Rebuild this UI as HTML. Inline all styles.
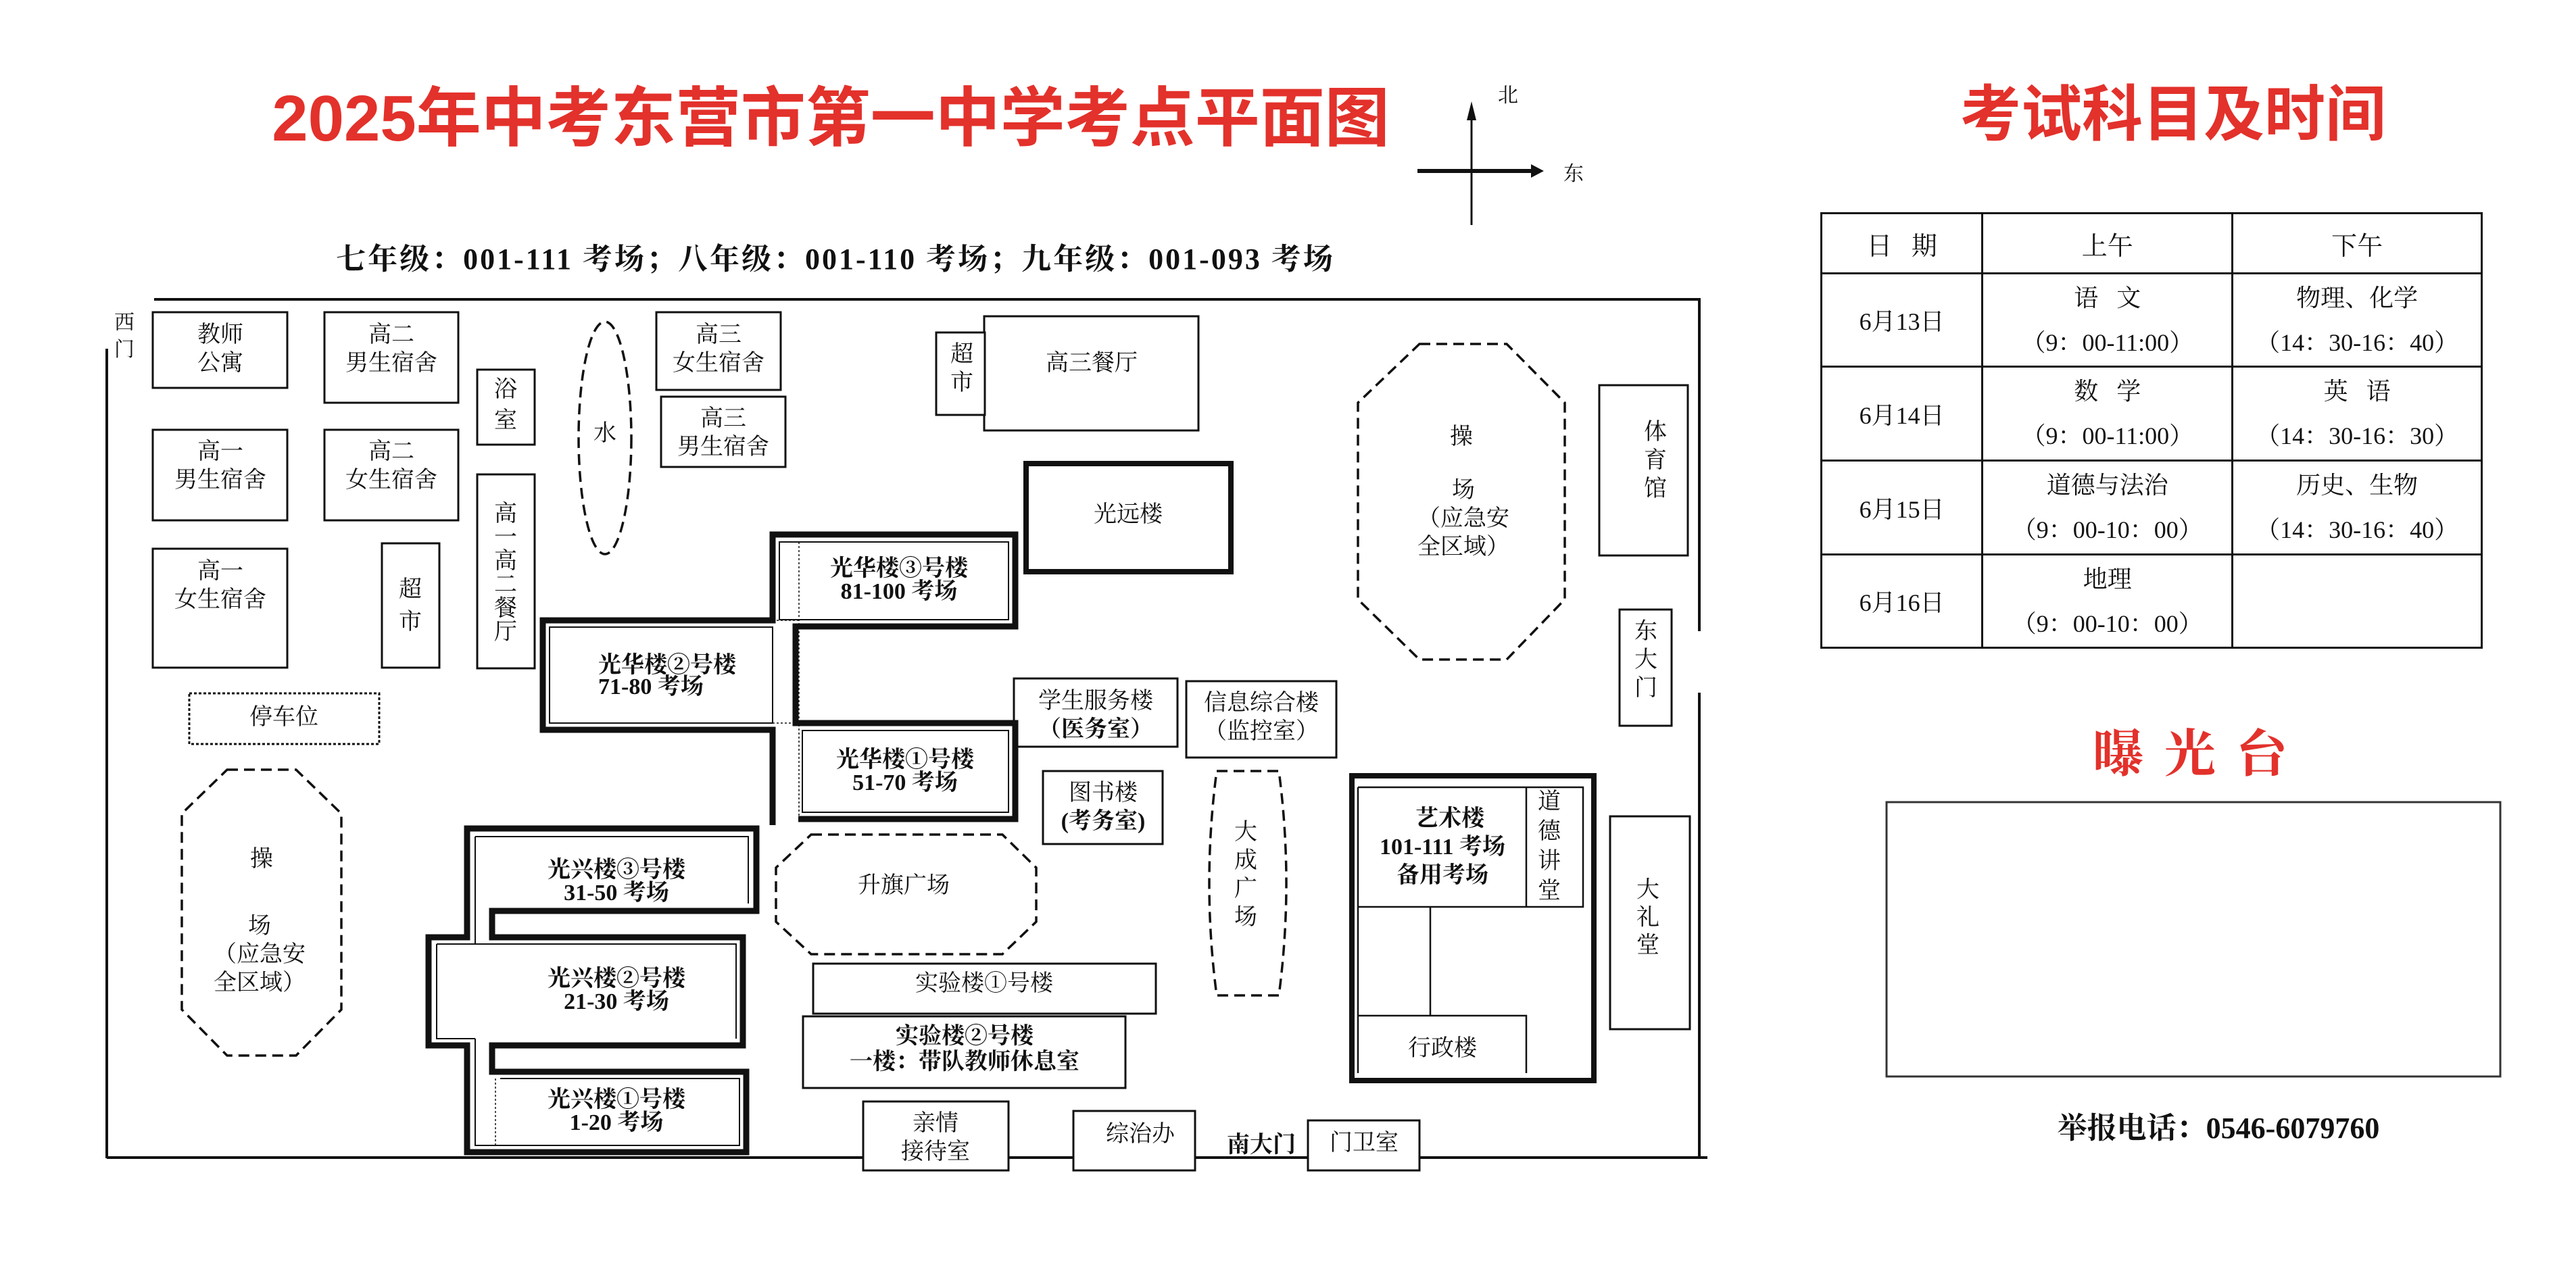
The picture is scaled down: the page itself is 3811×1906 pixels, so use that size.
<!DOCTYPE html>
<html><head><meta charset="utf-8">
<style>
html,body{margin:0;padding:0;background:#fff;}
#w{position:relative;width:3811px;height:1906px;overflow:hidden;background:#fff;}
svg{position:absolute;left:0;top:0;}
.t{position:absolute;transform:translate(-50%,-50%);white-space:nowrap;text-align:center;font-family:"Liberation Serif","Noto Serif CJK SC",serif;font-size:34px;line-height:42px;color:#111;}
.b{font-weight:bold;}
.v{line-height:46px;}
.tb{position:absolute;left:2693px;top:314px;border-collapse:collapse;font-family:"Liberation Serif","Noto Serif CJK SC",serif;color:#111;}
</style></head><body><div id="w">
<svg width="3811" height="1906" viewBox="0 0 3811 1906">
<g fill="none" stroke="#111">
<path d="M228 443 L2514 443 L2514 934 M2514 1025 L2514 1712 M158 1713 L2526 1713 M158 516 L158 1714" stroke-width="4"/>
<path d="M2177 170 L2177 333" stroke-width="3"/>
<path d="M2097 253 L2270 253" stroke-width="6"/>
</g>
<polygon points="2177,150 2170,178 2184,178" fill="#111"/>
<polygon points="2284,253 2265,243 2265,263" fill="#111"/>
<g fill="#fff" stroke="#111" stroke-width="3">
<rect x="226" y="462" width="199" height="112"/>
<rect x="480" y="462" width="198" height="134"/>
<rect x="706" y="547" width="85" height="111"/>
<rect x="971" y="462" width="184" height="115"/>
<rect x="978" y="587" width="184" height="104"/>
<rect x="226" y="636" width="199" height="134"/>
<rect x="480" y="636" width="198" height="134"/>
<rect x="706" y="702" width="85" height="287"/>
<rect x="226" y="812" width="199" height="176"/>
<rect x="565" y="804" width="85" height="184"/>
<rect x="1456" y="468" width="317" height="169"/>
<rect x="1385" y="492" width="72" height="122"/>
<rect x="2366" y="570" width="131" height="252"/>
<rect x="2396" y="902" width="77" height="172"/>
<rect x="1500" y="1004" width="242" height="101"/>
<rect x="1755" y="1008" width="222" height="113"/>
<rect x="1543" y="1141" width="177" height="108"/>
<rect x="1203" y="1426" width="507" height="74"/>
<rect x="1188" y="1504" width="477" height="106"/>
<rect x="1277" y="1630" width="215" height="102"/>
<rect x="1588" y="1644" width="180" height="88"/>
<rect x="1935" y="1658" width="165" height="74"/>
<rect x="2382" y="1208" width="118" height="315"/>
</g>
<rect x="280" y="1026" width="281" height="75" fill="none" stroke="#111" stroke-width="3" stroke-dasharray="4 3"/>
<g fill="none" stroke="#111" stroke-width="3.5" stroke-dasharray="16 9">
<ellipse cx="895" cy="648" rx="39" ry="172"/>
<polygon points="336,1139 438,1139 505,1204 505,1494 438,1562 336,1562 269,1494 269,1204"/>
<polygon points="2100,509 2229,509 2315,596 2315,887 2229,976 2100,976 2009,887 2009,596"/>
<polygon points="1200,1235 1483,1235 1533,1284 1533,1364 1483,1412 1200,1412 1148,1364 1148,1284"/>
<path d="M1800 1141 L1892 1141 Q1914 1307 1892 1473 L1800 1473 Q1778 1307 1800 1141 Z"/>
</g>
<g fill="none" stroke="#111">
<rect x="1518" y="686" width="303" height="160" stroke-width="8"/>
<path d="M1143 1221 L1143 1080 L803 1080 L803 918 L1143 918 L1143 791 L1502 791 L1502 927 L1177 927 L1177 1070 L1502 1070 L1502 1212 L1181 1212" stroke-width="9"/>
<rect x="813" y="928" width="330" height="142" stroke-width="2"/>
<rect x="1153" y="802" width="339" height="115" stroke-width="2"/>
<rect x="1187" y="1081" width="305" height="121" stroke-width="2"/>
<path d="M1182 802 L1182 1212 M1143 918 L1182 918 M1143 1070 L1182 1070" stroke-width="1.5" stroke-dasharray="3 3"/>
<polygon points="691,1226 1119,1226 1119,1348 728,1348 728,1387 1099,1387 1099,1547 728,1547 728,1586 1104,1586 1104,1705 691,1705 691,1547 634,1547 634,1387 691,1387" stroke-width="9"/>
<path d="M703 1238 L1107 1238 L1107 1337 M646 1397 L1089 1397 L1089 1537 M646 1397 L646 1537 L703 1537 M703 1238 L703 1397 M740 1596 L1094 1596 L1094 1695 L703 1695 L703 1537" stroke-width="2"/>
<path d="M733 1596 L733 1695" stroke-width="1.5" stroke-dasharray="3 3"/>
<rect x="2000" y="1148" width="358" height="451" stroke-width="8"/>
<path d="M2009 1165 L2342 1165 L2342 1342 L2009 1342 M2258 1165 L2258 1342 M2009 1165 L2009 1588 M2116 1342 L2116 1503 M2009 1503 L2258 1503 L2258 1588" stroke-width="2.5"/>
</g>
<rect x="2791" y="1187" width="908" height="406" fill="none" stroke="#333" stroke-width="3"/>
</svg>

<div class="t b" style="left:1229px;top:176px;font-family:'Liberation Sans','Noto Sans CJK SC',sans-serif;font-size:96px;line-height:110px;color:#e3312b;">2025年中考东营市第一中学考点平面图</div>
<div class="t" style="left:2231px;top:142px;font-size:30px;">北</div>
<div class="t" style="left:2328px;top:258px;font-size:30px;">东</div>
<div class="t b" style="left:1236px;top:384px;font-size:44px;letter-spacing:3px;">七年级：001-111 考场；八年级：001-110 考场；九年级：001-093 考场</div>
<div class="t" style="left:184px;top:498px;font-size:30px;line-height:40px;">西<br>门</div>

<div class="t" style="left:326px;top:517px;">教师<br>公寓</div>
<div class="t" style="left:579px;top:517px;">高二<br>男生宿舍</div>
<div class="t v" style="left:748px;top:600px;">浴<br>室</div>
<div class="t" style="left:895px;top:642px;">水</div>
<div class="t" style="left:1063px;top:517px;">高三<br>女生宿舍</div>
<div class="t" style="left:1070px;top:641px;">高三<br>男生宿舍</div>
<div class="t" style="left:326px;top:690px;">高一<br>男生宿舍</div>
<div class="t" style="left:579px;top:690px;">高二<br>女生宿舍</div>
<div class="t" style="left:326px;top:867px;">高一<br>女生宿舍</div>
<div class="t" style="left:607px;top:897px;line-height:48px;">超<br>市</div>
<div class="t" style="left:748px;top:848px;line-height:35px;">高<br>一<br>高<br>二<br>餐<br>厅</div>
<div class="t" style="left:420px;top:1062px;">停车位</div>
<div class="t" style="left:387px;top:1272px;">操</div>
<div class="t" style="left:384px;top:1413px;">场<br>（应急安<br>全区域）</div>
<div class="t b" style="left:987px;top:1001px;line-height:32px;text-align:left;">光华楼②号楼<br>71-80 考场</div>
<div class="t b" style="left:1330px;top:859px;line-height:34px;">光华楼③号楼<br>81-100 考场</div>
<div class="t b" style="left:1339px;top:1142px;line-height:34px;">光华楼①号楼<br>51-70 考场</div>
<div class="t b" style="left:912px;top:1305px;line-height:34px;">光兴楼③号楼<br>31-50 考场</div>
<div class="t b" style="left:912px;top:1466px;line-height:34px;">光兴楼②号楼<br>21-30 考场</div>
<div class="t b" style="left:912px;top:1645px;line-height:34px;">光兴楼①号楼<br>1-20 考场</div>
<div class="t" style="left:1615px;top:538px;">高三餐厅</div>
<div class="t" style="left:1423px;top:546px;">超<br>市</div>
<div class="t" style="left:1669px;top:762px;">光远楼</div>
<div class="t" style="left:2162px;top:647px;">操</div>
<div class="t" style="left:2165px;top:768px;">场<br>（应急安<br>全区域）</div>
<div class="t" style="left:2449px;top:682px;">体<br>育<br>馆</div>
<div class="t" style="left:2435px;top:977px;">东<br>大<br>门</div>
<div class="t" style="left:1621px;top:1059px;">学生服务楼<br><b>（医务室）</b></div>
<div class="t" style="left:1866px;top:1062px;">信息综合楼<br>（监控室）</div>
<div class="t" style="left:1632px;top:1195px;">图书楼<br><b>(考务室)</b></div>
<div class="t" style="left:1843px;top:1295px;">大<br>成<br>广<br>场</div>
<div class="t" style="left:1337px;top:1311px;">升旗广场</div>
<div class="t" style="left:1456px;top:1456px;">实验楼①号楼</div>
<div class="t b" style="left:1427px;top:1553px;line-height:38px;">实验楼②号楼<br>一楼：带队教师休息室</div>
<div class="t" style="left:1384px;top:1684px;">亲情<br>接待室</div>
<div class="t" style="left:1687px;top:1679px;">综治办</div>
<div class="t b" style="left:1866px;top:1695px;">南大门</div>
<div class="t" style="left:2018px;top:1692px;">门卫室</div>
<div class="t b" style="left:2145px;top:1212px;">艺术楼</div>
<div class="t b" style="left:2134px;top:1275px;">101-111 考场<br>备用考场</div>
<div class="t" style="left:2292px;top:1253px;line-height:44px;">道<br>德<br>讲<br>堂</div>
<div class="t" style="left:2134px;top:1552px;">行政楼</div>
<div class="t" style="left:2438px;top:1358px;line-height:41px;">大<br>礼<br>堂</div>

<div class="t b" style="left:3215px;top:170px;font-family:'Liberation Sans','Noto Sans CJK SC',sans-serif;font-size:90px;line-height:100px;color:#e3312b;">考试科目及时间</div>
<table class="tb" style="width:980px;">
<colgroup><col style="width:239px"><col style="width:371px"><col style="width:370px"></colgroup>
<tr style="height:89px;"><td style="border:3px solid #111;text-align:center;font-size:38px;">日&nbsp;&nbsp;&nbsp;期</td><td style="border:3px solid #111;text-align:center;font-size:38px;">上午</td><td style="border:3px solid #111;text-align:center;font-size:38px;">下午</td></tr>
<tr style="height:138px;"><td style="border:3px solid #111;text-align:center;font-size:36px;">6月13日</td><td style="border:3px solid #111;text-align:center;font-size:36px;line-height:66px;">语&nbsp;&nbsp;&nbsp;文<br>（9：00-11:00）</td><td style="border:3px solid #111;text-align:center;font-size:36px;line-height:66px;">物理、化学<br>（14：30-16：40）</td></tr>
<tr style="height:139px;"><td style="border:3px solid #111;text-align:center;font-size:36px;">6月14日</td><td style="border:3px solid #111;text-align:center;font-size:36px;line-height:66px;">数&nbsp;&nbsp;&nbsp;学<br>（9：00-11:00）</td><td style="border:3px solid #111;text-align:center;font-size:36px;line-height:66px;">英&nbsp;&nbsp;&nbsp;语<br>（14：30-16：30）</td></tr>
<tr style="height:139px;"><td style="border:3px solid #111;text-align:center;font-size:36px;">6月15日</td><td style="border:3px solid #111;text-align:center;font-size:36px;line-height:66px;">道德与法治<br>（9：00-10：00）</td><td style="border:3px solid #111;text-align:center;font-size:36px;line-height:66px;">历史、生物<br>（14：30-16：40）</td></tr>
<tr style="height:138px;"><td style="border:3px solid #111;text-align:center;font-size:36px;">6月16日</td><td style="border:3px solid #111;text-align:center;font-size:36px;line-height:66px;">地理<br>（9：00-10：00）</td><td style="border:3px solid #111;"></td></tr>
</table>
<div class="t b" style="left:3240px;top:1117px;font-size:76px;line-height:80px;letter-spacing:30px;color:#e3312b;padding-left:30px;">曝光台</div>
<div class="t b" style="left:3282px;top:1670px;font-size:44px;line-height:50px;">举报电话：0546-6079760</div>
</div></body></html>
